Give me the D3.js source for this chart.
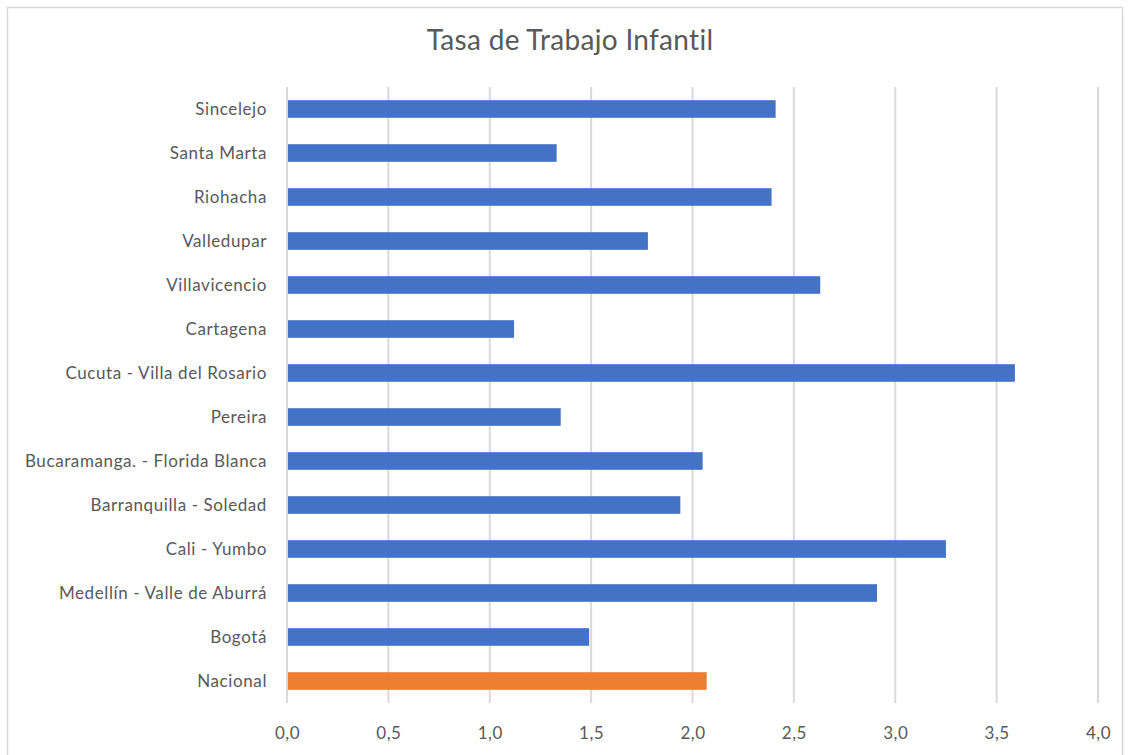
<!DOCTYPE html>
<html>
<head>
<meta charset="utf-8">
<script src="https://cdn.jsdelivr.net/npm/d3@7"></script>
<style>
	body { margin: 0; background: #fff; }
	text { font-family: Lato, "Open Sans", sans-serif; fill: #595959; }
</style>
</head>
<body>
<svg id="chart" width="1130" height="755"></svg>
<script>
//DATA
var title = 'Tasa de Trabajo Infantil';
var cities = ['Sincelejo', 'Santa Marta', 'Riohacha', 'Valledupar', 'Villavicencio', 'Cartagena',
	'Cucuta - Villa del Rosario', 'Pereira', 'Bucaramanga. - Florida Blanca', 'Barranquilla - Soledad',
	'Cali - Yumbo', 'Medellín - Valle de Aburrá', 'Bogotá', 'Nacional'];
var rates = [2.41, 1.33, 2.39, 1.78, 2.63, 1.12, 3.59, 1.35, 2.05, 1.94, 3.25, 2.91, 1.49, 2.07];
var xTicks = [0, 0.5, 1, 1.5, 2, 2.5, 3, 3.5, 4];
var highlight = 'Nacional';

var barCol = '#4472C4';
var highCol = '#ED7D31';

//LAYOUT
var svg = d3.select('#chart');
var plotL = 287, plotR = 1098, plotT = 87, plotB = 703;

svg.append('rect')
	.attr('x', 7.5).attr('y', 7.5)
	.attr('width', 1115).attr('height', 760)
	.attr('fill', '#fff').attr('stroke', '#d9d9d9').attr('stroke-width', 1.5);

var x = d3.scaleLinear().domain([0, 4]).range([plotL, plotR]);
var y = d3.scaleBand().domain(cities).range([plotT, plotB]).paddingInner(0.6).paddingOuter(0.3);

// gridlines
svg.append('g')
	.selectAll('line')
	.data(xTicks)
	.enter().append('line')
	.attr('x1', function(d) { return x(d); })
	.attr('x2', function(d) { return x(d); })
	.attr('y1', plotT).attr('y2', plotB)
	.attr('stroke', '#d9d9d9').attr('stroke-width', 2);

// bars
svg.append('g')
	.selectAll('rect')
	.data(cities)
	.enter().append('rect')
	.attr('x', x(0) + 1)
	.attr('y', function(d) { return y(d); })
	.attr('height', y.bandwidth())
	.attr('width', function(d, i) { return x(rates[i]) - x(0) - 1; })
	.attr('fill', function(d) { return d == highlight ? highCol : barCol; });

// category labels
var yAxis = svg.append('g')
	.attr('transform', 'translate(' + (plotL - 20) + ',0)')
	.call(d3.axisLeft(y).tickSize(0).tickPadding(0));
yAxis.select('.domain').remove();
yAxis.selectAll('text')
	.style('font-size', '17px')
	.style('letter-spacing', '0.6px')
	.attr('dy', '0.35em');

// value labels
var xAxis = svg.append('g')
	.attr('transform', 'translate(0,' + plotB + ')')
	.call(d3.axisBottom(x).tickValues(xTicks).tickSize(0).tickPadding(24)
		.tickFormat(function(d) { return d3.format('.1f')(d).replace('.', ','); }));
xAxis.select('.domain').remove();
xAxis.selectAll('text')
	.style('font-size', '17px')
	.style('letter-spacing', '0.5px');

svg.selectAll('.tick text').attr('font-family', null).attr('fill', null);

// title
svg.append('text')
	.attr('x', 570).attr('y', 50)
	.attr('text-anchor', 'middle')
	.style('font-size', '28px')
	.style('letter-spacing', '0.3px')
	.text(title);
</script>
</body>
</html>
